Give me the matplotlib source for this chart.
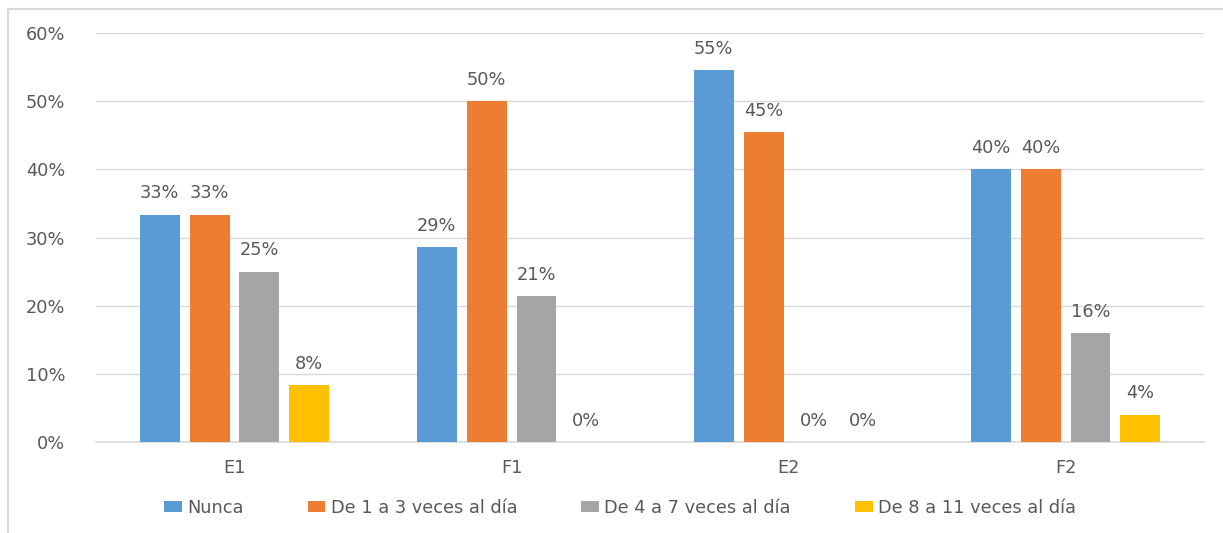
import matplotlib
matplotlib.use("Agg")
import matplotlib.pyplot as plt
import numpy as np
from matplotlib.patches import Rectangle

# grupos y series
groups = ["E1", "F1", "E2", "F2"]
series = ["Nunca", "De 1 a 3 veces al día", "De 4 a 7 veces al día",
          "De 8 a 11 veces al día"]
nunca = [0.3333, 0.2857, 0.5455, 0.40]
de1a3 = [0.3333, 0.50, 0.4545, 0.40]
de4a7 = [0.25, 0.2143, 0.0, 0.16]
de8a11 = [0.0833, 0.0, 0.0, 0.04]
colors = ["#5B9BD5", "#ED7D31", "#A5A5A5", "#FFC000"]

TXT = "#595959"
FS = 12.8
plt.rcParams["font.family"] = "DejaVu Sans"

fig = plt.figure(figsize=(12.23, 5.33), dpi=100)
# marco gris del gráfico
fig.patches.append(Rectangle((8 / 1223, -0.05), 1.1, 1 - 9 / 533 + 0.05,
                             transform=fig.transFigure, fill=False,
                             edgecolor="#d9d9d9", linewidth=1.5))
ax = fig.add_axes([0.0785, 0.1707, 0.906, 0.767])

x = np.arange(len(groups))
w = 0.144
step = 0.18
for i, (vals, name, c) in enumerate(zip([nunca, de1a3, de4a7, de8a11], series, colors)):
    pos = x + (i - 1.5) * step
    bars = ax.bar(pos, vals, width=w, color=c, label=name, zorder=3)
    for b, v in zip(bars, vals):
        ax.annotate(f"{v * 100:.0f}%", (b.get_x() + b.get_width() / 2, v),
                    xytext=(0, 9), textcoords="offset points",
                    ha="center", va="bottom", fontsize=FS, color=TXT)

ax.set_xlim(-0.5, 3.5)
ax.set_ylim(0, 0.6)
ax.set_yticks(np.arange(0, 0.61, 0.1))
ax.set_yticklabels([f"{t * 100:.0f}%" for t in np.arange(0, 0.61, 0.1)])
ax.set_xticks(x)
ax.set_xticklabels(groups)
ax.tick_params(axis="y", length=0, pad=22, labelsize=FS, labelcolor=TXT)
ax.tick_params(axis="x", length=0, pad=12, labelsize=FS, labelcolor=TXT)
ax.grid(axis="y", color="#d9d9d9", linewidth=1, zorder=0)
for s in ["top", "right", "left"]:
    ax.spines[s].set_visible(False)
ax.spines["bottom"].set_color("#d9d9d9")
ax.spines["bottom"].set_linewidth(1.2)

leg = fig.legend(loc="center", bbox_to_anchor=(0.507, 0.047), ncol=4,
                 frameon=False, fontsize=FS, handlelength=1.0,
                 handleheight=0.62, handletextpad=0.3, columnspacing=3.6)
for t in leg.get_texts():
    t.set_color(TXT)

fig.savefig("out.png", dpi=100)
